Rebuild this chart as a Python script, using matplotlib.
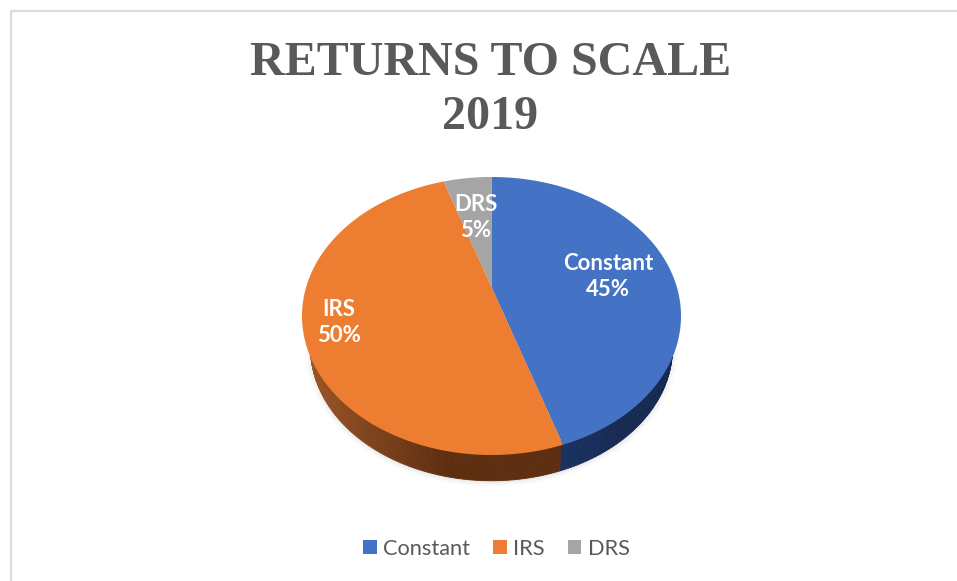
import numpy as np
import matplotlib
matplotlib.use("Agg")
import matplotlib.pyplot as plt
from matplotlib.patches import Patch, Polygon, Ellipse
from matplotlib.colors import LinearSegmentedColormap
from matplotlib.lines import Line2D

categories = ["Constant", "IRS", "DRS"]
shares = [45, 50, 5]
colors = ["#4472C4", "#ED7D31", "#A5A5A5"]
side_light = ["#1B3260", "#9A5526", "#6E6E6E"]
side_dark = ["#162A52", "#5E2E10", "#5A5A5A"]

W, H = 957, 581
NARROW = ["Lato", "DejaVu Sans"]
GREY = "#595959"

# pixel box of the top ellipse
LEFT, RIGHT, TOP, BOTTOM = 302, 681, 177, 455
# tilt: the pie centre shows above the middle of the ellipse
APEX_SHIFT = 29 / 139
# the bottom rim is a bit smaller and lower
RIM_SCALE = 0.955
RIM_DROP = 32 / 139


def px_box(l, r, t, b):
    return [l / W, 1 - b / H, (r - l) / W, (b - t) / H]


def project(x, y):
    # perspective map of the unit disc onto itself, moves the centre up by APEX_SHIFT
    k = APEX_SHIFT
    d = 1 + k * y
    return x * np.sqrt(1 - k * k) / d, (y + k) / d


fig = plt.figure(figsize=(W / 100, H / 100), dpi=100, facecolor="white")

# chart area border, only top and left are inside the crop
fig.add_artist(Line2D([10.5 / W, 10.5 / W, 1], [0, 1 - 10.5 / H, 1 - 10.5 / H],
                      color="#DCDCDC", lw=1.6, transform=fig.transFigure))

ax = fig.add_axes(px_box(LEFT, RIGHT, TOP, BOTTOM))
ax.set_xlim(-1, 1)
ax.set_ylim(-1, 1)
ax.axis("off")

# soft shadow under the pie
for grow, a in zip([1.03, 1.015, 1.0], [0.02, 0.03, 0.04]):
    ax.add_patch(Ellipse((0, -RIM_DROP - 0.012), 2 * RIM_SCALE * grow, 2 * RIM_SCALE * grow,
                         facecolor="black", edgecolor="none", alpha=a, zorder=1, clip_on=False))

# clockwise from 12 o'clock
edges = 90 - 3.6 * np.cumsum([0] + shares)
apex = project(0.0, 0.0)
for i, cat in enumerate(categories):
    theta = np.radians(np.linspace(edges[i], edges[i + 1], 200))
    px, py = project(np.cos(theta), np.sin(theta))

    # top face
    ax.fill(np.r_[apex[0], px], np.r_[apex[1], py], color=colors[i], lw=0, zorder=5, clip_on=False)

    # side wall: strips from under the top edge down to the lower rim
    keep = py < -0.05
    if keep.sum() < 2:
        continue
    x1 = RIM_SCALE * px[keep]
    y1 = RIM_SCALE * py[keep] - RIM_DROP
    # start a little inside the top face so no strip end shows past its edge
    x0, y0 = 0.97 * px[keep], 0.97 * py[keep]
    cmap = LinearSegmentedColormap.from_list(cat, [side_light[i], side_dark[i]])
    shade = np.clip((x1 - x1.min()) / (x1.max() - x1.min()) * 1.8, 0, 1)
    for j in range(len(x0) - 1):
        quad = [(x0[j], y0[j]), (x0[j + 1], y0[j + 1]), (x1[j + 1], y1[j + 1]), (x1[j], y1[j])]
        ax.add_patch(Polygon(quad, closed=True, facecolor=cmap(shade[j]), edgecolor=cmap(shade[j]),
                             lw=0.6, zorder=2, clip_on=False))

# data labels
label_pos = [(608, 276.5), (339, 322.5), (476, 217.5)]
for cat, pct, (lx, ly) in zip(categories, shares, label_pos):
    fig.text(lx / W, 1 - ly / H, f"{cat}\n{pct}%", color="white", fontsize=16, fontweight="bold",
             family=NARROW, ha="center", va="center", linespacing=1.3, zorder=10)

# title
fig.text(490.5 / W, 1 - 63 / H, "RETURNS TO SCALE", color=GREY, fontsize=34.6, fontweight="bold",
         family="Liberation Serif", ha="center", va="center")
fig.text(490.5 / W, 1 - 117 / H, "2019", color=GREY, fontsize=34.6, fontweight="bold",
         family="Liberation Serif", ha="center", va="center")

# legend
handles = [Patch(facecolor=c, edgecolor="none") for c in colors]
fig.legend(handles, categories, loc="center", bbox_to_anchor=(496.5 / W, 1 - 549 / H),
           ncol=3, frameon=False, handlelength=0.62, handleheight=0.62, handletextpad=0.3,
           columnspacing=1.05, labelcolor=GREY, prop={"family": NARROW, "size": 15.7})

fig.savefig("out.png", dpi=100)
